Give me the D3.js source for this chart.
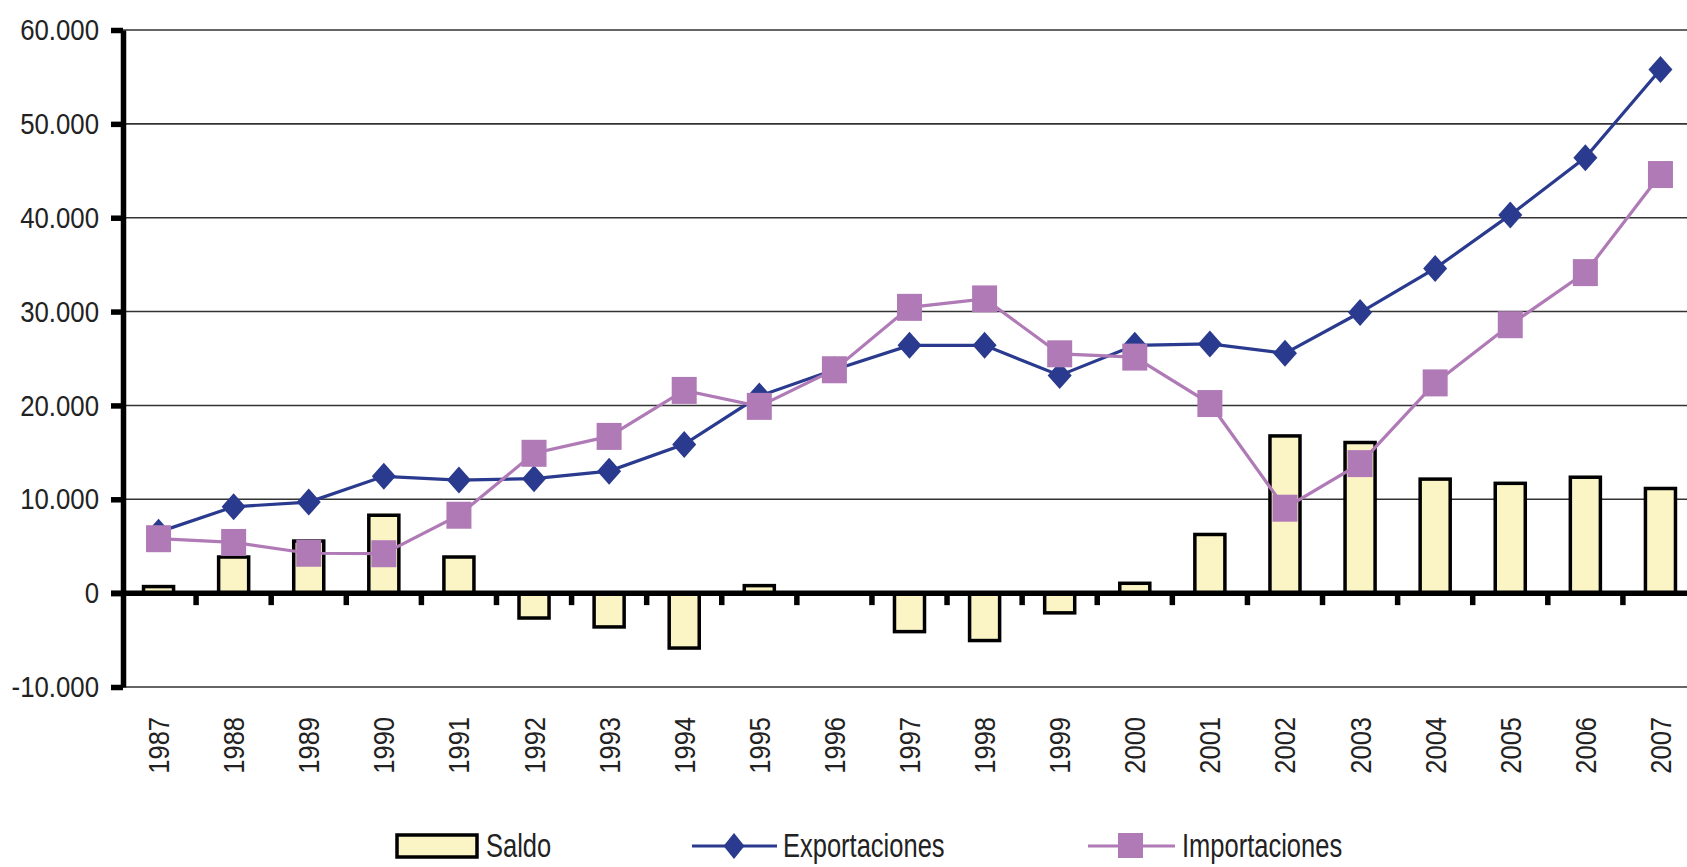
<!DOCTYPE html>
<html>
<head>
<meta charset="utf-8">
<title></title>
<style>
  body { margin: 0; background: #fff; }
  svg { display: block; font-family: "Liberation Sans", Arial, sans-serif; }
</style>
</head>
<body>
<script src="https://cdn.jsdelivr.net/npm/d3@7"></script>
<script>
  // datos (millones)
  var years = ["1987","1988","1989","1990","1991","1992","1993","1994","1995","1996","1997",
               "1998","1999","2000","2001","2002","2003","2004","2005","2006","2007"];
  var saldo = [700, 3850, 5550, 8300, 3850, -2650, -3600, -5850, 800, 0, -4100,
               -5050, -2100, 1050, 6250, 16750, 16050, 12150, 11700, 12350, 11150];
  var exportaciones = [6500, 9200, 9700, 12450, 12050, 12200, 13000, 15850, 21000, 23800, 26400,
                       26400, 23200, 26400, 26550, 25550, 29900, 34600, 40300, 46400, 55800];
  var importaciones = [5800, 5400, 4250, 4200, 8300, 14900, 16700, 21600, 19900, 23800, 30450,
                       31350, 25500, 25150, 20200, 9050, 13800, 22400, 28600, 34150, 44600];
  var yTicks = [-10000, 0, 10000, 20000, 30000, 40000, 50000, 60000];

  var width = 1687, height = 867;
  var margin = { top: 30, left: 121, right: 1698, bottom: 687 };

  var colExp = "#2a3a8e", colImp = "#b07ab6", colBar = "#fbf5c6";

  var svg = d3.select("body").append("svg")
      .attr("width", width).attr("height", height);

  var x = d3.scaleBand()
      .domain(years)
      .range([margin.left, margin.right])
      .padding(0);

  var y = d3.scaleLinear()
      .domain([-10000, 60000])
      .range([margin.bottom, margin.top]);

  var fmt = d3.formatLocale({ decimal: ",", thousands: ".", grouping: [3], currency: ["", ""], minus: "-" }).format(",");

  // grid
  svg.append("g")
      .attr("class", "grid")
    .selectAll("line")
    .data(yTicks.filter(d => d !== 0))
    .join("line")
      .attr("x1", 123).attr("x2", width)
      .attr("y1", d => y(d)).attr("y2", d => y(d))
      .attr("stroke", "#333").attr("stroke-width", 1.6);

  // barras saldo
  var bw = x.bandwidth() * 0.4;
  svg.append("g")
      .attr("class", "bars")
    .selectAll("rect")
    .data(years)
    .join("rect")
      .attr("x", (d) => x(d) + (x.bandwidth() - bw) / 2)
      .attr("y", (d, i) => y(Math.max(0, saldo[i])))
      .attr("width", bw)
      .attr("height", (d, i) => Math.abs(y(saldo[i]) - y(0)))
      .attr("fill", colBar)
      .attr("stroke", "#000")
      .attr("stroke-width", 3.5)
      .style("display", (d, i) => saldo[i] === 0 ? "none" : null);

  // eje x (en cero)
  var zeroY = y(0);
  svg.append("line")
      .attr("x1", 111).attr("x2", width)
      .attr("y1", zeroY).attr("y2", zeroY)
      .attr("stroke", "#000").attr("stroke-width", 5.5);
  svg.append("g")
    .selectAll("line")
    .data(years.slice(1))
    .join("line")
      .attr("x1", d => x(d)).attr("x2", d => x(d))
      .attr("y1", zeroY).attr("y2", zeroY + 12)
      .attr("stroke", "#000").attr("stroke-width", 5.5);

  // etiquetas x
  svg.append("g")
      .attr("class", "x-labels")
    .selectAll("text")
    .data(years)
    .join("text")
      .attr("transform", d => `translate(${x(d) + x.bandwidth() / 2},717) rotate(-90) scale(0.85,1)`)
      .attr("text-anchor", "end")
      .attr("dy", "0.35em")
      .attr("font-size", 30)
      .attr("fill", "#222")
      .text(d => d);

  // eje y
  var yAxis = svg.append("g")
      .attr("transform", "translate(123,0)")
      .call(d3.axisLeft(y).tickValues(yTicks).tickFormat(fmt).tickSize(12).tickSizeOuter(0));
  yAxis.select(".domain").attr("stroke-width", 5.5).attr("stroke", "#000");
  yAxis.selectAll(".tick line").attr("stroke-width", 5.5).attr("stroke", "#000");
  yAxis.selectAll(".tick text")
      .attr("font-size", 30)
      .attr("fill", "#222")
      .attr("font-family", "'Liberation Sans', Arial, sans-serif")
      .attr("x", -24 / 0.86)
      .attr("transform", "scale(0.86,1)");

  // lineas
  var line = arr => d3.line()
      .x(d => x(d) + x.bandwidth() / 2)
      .y((d, i) => y(arr[i]))(years);

  svg.append("path")
      .attr("d", line(exportaciones))
      .attr("fill", "none").attr("stroke", colExp).attr("stroke-width", 3.2);
  svg.append("path")
      .attr("d", line(importaciones))
      .attr("fill", "none").attr("stroke", colImp).attr("stroke-width", 3.2);

  var diamond = (cx, cy, w, h) => `M${cx},${cy - h / 2}L${cx + w / 2},${cy}L${cx},${cy + h / 2}L${cx - w / 2},${cy}Z`;

  svg.append("g")
    .selectAll("path")
    .data(years)
    .join("path")
      .attr("d", (d, i) => diamond(x(d) + x.bandwidth() / 2, y(exportaciones[i]), 24, 27))
      .attr("fill", colExp);

  svg.append("g")
    .selectAll("rect")
    .data(years)
    .join("rect")
      .attr("x", d => x(d) + x.bandwidth() / 2 - 12.5)
      .attr("y", (d, i) => y(importaciones[i]) - 13.5)
      .attr("width", 25).attr("height", 27)
      .attr("fill", colImp);

  // leyenda
  var lg = svg.append("g").attr("class", "legend");
  var ly = 846;
  lg.append("rect")
      .attr("x", 397).attr("y", 835).attr("width", 80).attr("height", 22)
      .attr("fill", colBar).attr("stroke", "#000").attr("stroke-width", 3.5);

  lg.append("line").attr("x1", 692).attr("x2", 777).attr("y1", ly).attr("y2", ly)
      .attr("stroke", colExp).attr("stroke-width", 3.2);
  lg.append("path").attr("d", diamond(734, ly, 21, 26)).attr("fill", colExp);

  lg.append("line").attr("x1", 1088).attr("x2", 1175).attr("y1", ly).attr("y2", ly)
      .attr("stroke", colImp).attr("stroke-width", 3.2);
  lg.append("rect").attr("x", 1118).attr("y", 833).attr("width", 25).attr("height", 25).attr("fill", colImp);

  var labels = [["Saldo", 486], ["Exportaciones", 783], ["Importaciones", 1182]];
  lg.selectAll("text")
    .data(labels)
    .join("text")
      .attr("transform", d => `translate(${d[1]},857) scale(0.75,1)`)
      .attr("font-size", 34)
      .attr("fill", "#222")
      .text(d => d[0]);
</script>
</body>
</html>
